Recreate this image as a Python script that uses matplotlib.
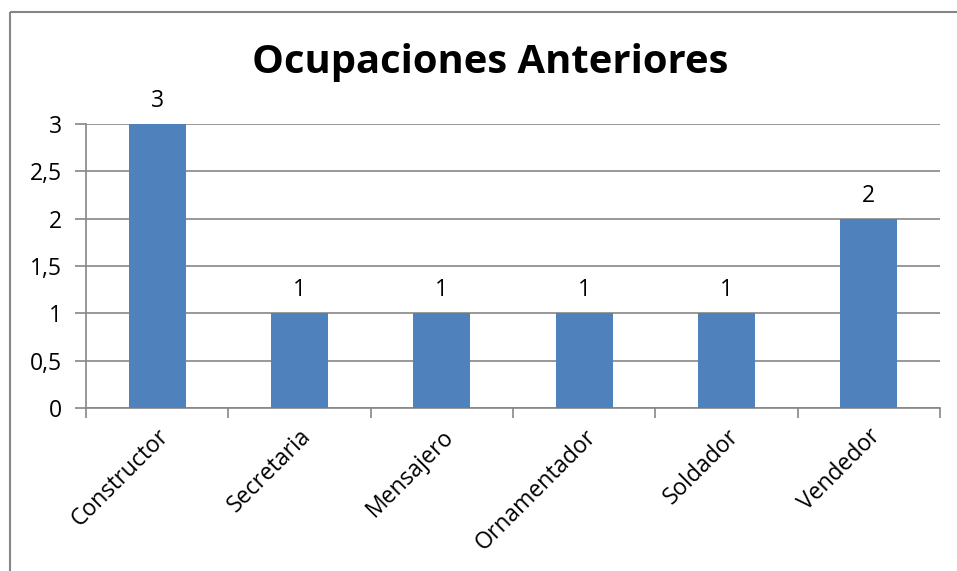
import matplotlib
matplotlib.use("Agg")
import matplotlib.pyplot as plt
from matplotlib.patches import Rectangle
from matplotlib.ticker import FuncFormatter, MultipleLocator

categories = ["Constructor", "Secretaria", "Mensajero", "Ornamentador", "Soldador", "Vendedor"]
values = [3, 1, 1, 1, 1, 2]
title = "Ocupaciones Anteriores"

plt.rcParams['font.family'] = ['Open Sans', 'DejaVu Sans']

W, H = 957, 571
fig = plt.figure(figsize=(W / 100, H / 100), dpi=100)
fig.patch.set_facecolor("white")

# outer chart border
fig.add_artist(Rectangle((10 / W, 1 - 12 / H), 2, -2, transform=fig.transFigure,
                         fill=False, edgecolor="#868686", linewidth=1.5))

ax = fig.add_axes([86 / W, 1 - 408 / H, (940 - 86) / W, (408 - 124) / H])
x = list(range(len(categories)))
bars = ax.bar(x, values, width=0.4, color="#4F81BD", zorder=3)
ax.set_xlim(-0.5, len(categories) - 0.5)
ax.set_ylim(0, 3)

ax.yaxis.set_major_locator(MultipleLocator(0.5))
ax.yaxis.set_major_formatter(FuncFormatter(lambda v, p: (f"{v:g}").replace(".", ",")))
ax.grid(axis="y", color="#868686", linewidth=1.2, zorder=0)
ax.set_axisbelow(True)

fs = 16.5
ax.set_xticks(x)
ax.set_xticklabels(categories, rotation=45, ha="right", rotation_mode="anchor", fontsize=fs)
ax.tick_params(axis="x", which="major", length=0, pad=12)
ax.set_xticks([i - 0.5 for i in range(len(categories) + 1)], minor=True)
ax.tick_params(axis="x", which="minor", length=7, color="#868686", width=1.2)
ax.tick_params(axis="y", length=8, color="#868686", width=1.2, labelsize=fs, pad=9)

for s in ["top", "right"]:
    ax.spines[s].set_visible(False)
for s in ["left", "bottom"]:
    ax.spines[s].set_color("#868686")
    ax.spines[s].set_linewidth(1.2)

for xi, v in zip(x, values):
    ax.annotate(f"{v}", (xi, v), xytext=(0, 8), textcoords="offset points",
                ha="center", va="bottom", fontsize=fs)

fig.text(490 / W, 1 - 62 / H, title, ha="center", va="center", fontsize=28.8, fontweight="bold")

fig.savefig("out.png", dpi=100)
